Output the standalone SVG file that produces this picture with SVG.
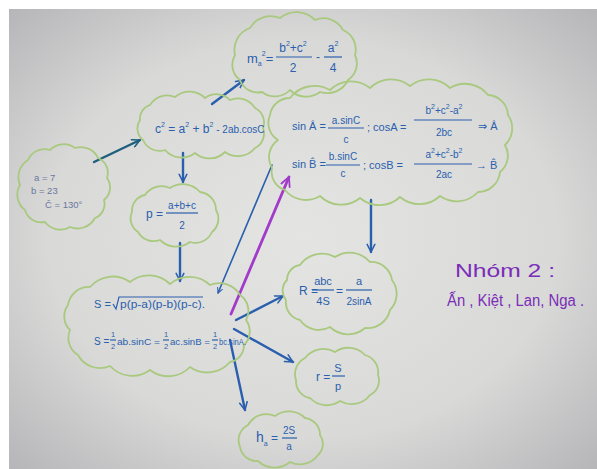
<svg xmlns="http://www.w3.org/2000/svg" width="597" height="469" viewBox="0 0 597 469">
<defs>
<radialGradient id="bg" cx="0.5" cy="0.5" r="0.72">
<stop offset="0" stop-color="#e4e4e2"/>
<stop offset="0.6" stop-color="#d9d9d8"/>
<stop offset="1" stop-color="#b4b4b7"/>
</radialGradient>
<marker id="ahb" viewBox="0 0 10 10" refX="9" refY="5" markerWidth="4" markerHeight="4" orient="auto" markerUnits="strokeWidth">
<path d="M1,1 L9,5 L1,9" fill="none" stroke="#2a5fae" stroke-width="1.6" stroke-linecap="round" stroke-linejoin="round"/>
</marker>
<marker id="aht" viewBox="0 0 10 10" refX="9" refY="5" markerWidth="4" markerHeight="4" orient="auto" markerUnits="strokeWidth">
<path d="M1,1 L9,5 L1,9" fill="none" stroke="#1f5f7e" stroke-width="1.6" stroke-linecap="round" stroke-linejoin="round"/>
</marker>
<marker id="ahp" viewBox="0 0 10 10" refX="9" refY="5" markerWidth="4" markerHeight="4" orient="auto" markerUnits="strokeWidth">
<path d="M1,1 L9,5 L1,9" fill="none" stroke="#a23bc9" stroke-width="1.6" stroke-linecap="round" stroke-linejoin="round"/>
</marker>
</defs>
<style>
.cloud{fill:none;stroke:#a9c97f;stroke-width:1.8;stroke-linejoin:round}
.t{font-family:"Liberation Sans","DejaVu Sans",sans-serif;fill:#2a5fae}
.g{font-family:"Liberation Sans","DejaVu Sans",sans-serif;fill:#6b78a0;font-size:9.5px}
.s{font-size:7px}
.fl{stroke:#2a5fae;stroke-width:1.2}
.c{text-anchor:middle}
.ar{fill:none;stroke:#2a5fae;stroke-width:2.4;stroke-linecap:round}
.pu{font-family:"Liberation Sans","DejaVu Sans",sans-serif;fill:#7a2db8}
</style>
<rect x="0" y="0" width="597" height="469" fill="#ffffff"/>
<rect x="9" y="9" width="588" height="460" fill="url(#bg)"/>

<g id="connectors">
<line x1="94" y1="162" x2="140" y2="140" stroke="#1f5f7e" stroke-width="2.4" stroke-linecap="round" marker-end="url(#aht)"/>
<line x1="212" y1="104" x2="244" y2="80" class="ar" marker-end="url(#ahb)"/>
<line x1="183" y1="153" x2="183" y2="182" class="ar" marker-end="url(#ahb)"/>
<line x1="180" y1="243" x2="180" y2="281" class="ar" marker-end="url(#ahb)"/>
<line x1="371" y1="200" x2="371" y2="252" class="ar" marker-end="url(#ahb)"/>
<line x1="272" y1="165" x2="218" y2="293" stroke="#2a5fae" stroke-width="1.6" stroke-linecap="round" marker-end="url(#ahb)"/>
<line x1="231" y1="314" x2="289" y2="177" stroke="#a23bc9" stroke-width="2.8" stroke-linecap="round" marker-end="url(#ahp)"/>
<line x1="236" y1="320" x2="283" y2="296" class="ar" marker-end="url(#ahb)"/>
<line x1="234" y1="329" x2="293" y2="362" class="ar" marker-end="url(#ahb)"/>
<line x1="230" y1="340" x2="245" y2="410" class="ar" marker-end="url(#ahb)"/>
</g>

<g id="n-given">
<path class="cloud" d="M28,160 A18,18 0 0 1 50,150 A19,19 0 0 1 75,148 A19,19 0 0 1 98,158 A16,16 0 0 1 107,178 A16,16 0 0 1 104,200 A15,15 0 0 1 95,218 A20,20 0 0 1 70,227 A19,19 0 0 1 45,222 A17,17 0 0 1 25,210 A19,19 0 0 1 20,185 A20,20 0 0 1 28,160 Z"/>
<text class="g" x="34" y="181">a = 7</text>
<text class="g" x="31" y="194">b = 23</text>
<text class="g" x="45" y="208">Ĉ = 130°</text>
</g>

<g id="n-c2">
<path class="cloud" d="M150,105 A20,20 0 0 1 175,97 A22,22 0 0 1 205,98 A19,19 0 0 1 230,100 A20,20 0 0 1 255,108 A16,16 0 0 1 263,128 A16,16 0 0 1 255,148 A22,22 0 0 1 225,152 A22,22 0 0 1 195,153 A22,22 0 0 1 165,150 A18,18 0 0 1 143,140 A15,15 0 0 1 140,120 A14,14 0 0 1 150,105 Z"/>
<text class="t" x="155" y="133" font-size="12">c<tspan dy="-6" font-size="7">2</tspan><tspan dy="6"> = a</tspan><tspan dy="-6" font-size="7">2</tspan><tspan dy="6"> + b</tspan><tspan dy="-6" font-size="7">2</tspan><tspan dy="6" font-size="10"> - 2ab.cosC</tspan></text>
</g>

<g id="n-median">
<path class="cloud" d="M250,28 A24,24 0 0 1 280,18 A26,26 0 0 1 315,20 A22,22 0 0 1 343,30 A21,21 0 0 1 355,55 A20,20 0 0 1 348,80 A23,23 0 0 1 320,92 A23,23 0 0 1 290,90 A21,21 0 0 1 262,92 A19,19 0 0 1 240,80 A19,19 0 0 1 235,55 A23,23 0 0 1 250,28 Z"/>
<text class="t" x="247" y="63" font-size="13">m<tspan dy="3" class="s">a</tspan><tspan dy="-10" class="s">2</tspan><tspan dy="7">=</tspan></text>
<text class="t c" x="293" y="52" font-size="12">b<tspan dy="-6" class="s">2</tspan><tspan dy="6">+c</tspan><tspan dy="-6" class="s">2</tspan></text>
<line class="fl" x1="276" y1="57" x2="312" y2="57"/>
<text class="t c" x="293" y="72" font-size="12">2</text>
<text class="t" x="316" y="61" font-size="12">-</text>
<text class="t c" x="333" y="52" font-size="12">a<tspan dy="-6" class="s">2</tspan></text>
<line class="fl" x1="324" y1="57" x2="342" y2="57"/>
<text class="t c" x="333" y="72" font-size="12">4</text>
</g>

<g id="n-angles">
<path class="cloud" d="M290,98 A31,31 0 0 1 330,90 A30,30 0 0 1 370,88 A30,30 0 0 1 410,86 A30,30 0 0 1 450,88 A29,29 0 0 1 488,95 A21,21 0 0 1 508,115 A23,23 0 0 1 505,145 A21,21 0 0 1 500,172 A22,22 0 0 1 478,192 A29,29 0 0 1 440,196 A30,30 0 0 1 400,197 A30,30 0 0 1 360,198 A30,30 0 0 1 320,196 A27,27 0 0 1 285,190 A19,19 0 0 1 272,168 A21,21 0 0 1 278,140 A20,20 0 0 1 270,115 A20,20 0 0 1 290,98 Z"/>
<text class="t" x="292" y="130" font-size="11">sin Â =</text>
<text class="t c" x="346" y="124" font-size="10">a.sinC</text>
<line class="fl" x1="328" y1="128" x2="364" y2="128"/>
<text class="t c" x="346" y="143" font-size="10">c</text>
<text class="t" x="367" y="131" font-size="11">; cosA =</text>
<text class="t c" x="444" y="114" font-size="10">b<tspan dy="-5" class="s">2</tspan><tspan dy="5">+c</tspan><tspan dy="-5" class="s">2</tspan><tspan dy="5">-a</tspan><tspan dy="-5" class="s">2</tspan></text>
<line class="fl" x1="414" y1="120" x2="472" y2="120"/>
<text class="t c" x="444" y="136" font-size="10">2bc</text>
<text class="t" x="478" y="130" font-size="11">⇒ Â</text>

<text class="t" x="292" y="168" font-size="11">sin B̂ =</text>
<text class="t c" x="343" y="160" font-size="10">b.sinC</text>
<line class="fl" x1="326" y1="165" x2="360" y2="165"/>
<text class="t c" x="343" y="177" font-size="10">c</text>
<text class="t" x="363" y="169" font-size="11">; cosB =</text>
<text class="t c" x="444" y="158" font-size="10">a<tspan dy="-5" class="s">2</tspan><tspan dy="5">+c</tspan><tspan dy="-5" class="s">2</tspan><tspan dy="5">-b</tspan><tspan dy="-5" class="s">2</tspan></text>
<line class="fl" x1="414" y1="164" x2="472" y2="164"/>
<text class="t c" x="444" y="178" font-size="10">2ac</text>
<text class="t" x="476" y="169" font-size="11">→ B̂</text>
</g>

<g id="n-p">
<path class="cloud" d="M145,195 A20,20 0 0 1 170,188 A23,23 0 0 1 200,192 A18,18 0 0 1 216,210 A17,17 0 0 1 212,232 A18,18 0 0 1 190,242 A23,23 0 0 1 160,240 A18,18 0 0 1 138,232 A16,16 0 0 1 132,212 A16,16 0 0 1 145,195 Z"/>
<text class="t" x="146" y="218" font-size="12">p =</text>
<text class="t c" x="182" y="209" font-size="10">a+b+c</text>
<line class="fl" x1="166" y1="213" x2="198" y2="213"/>
<text class="t c" x="182" y="229" font-size="10">2</text>
</g>

<g id="n-area">
<path class="cloud" d="M90,287 A30,30 0 0 1 130,282 A30,30 0 0 1 170,284 A30,30 0 0 1 210,285 A24,24 0 0 1 240,295 A19,19 0 0 1 246,320 A19,19 0 0 1 244,345 A17,17 0 0 1 230,362 A30,30 0 0 1 190,367 A30,30 0 0 1 150,370 A30,30 0 0 1 110,366 A25,25 0 0 1 78,355 A20,20 0 0 1 70,330 A19,19 0 0 1 68,305 A21,21 0 0 1 90,287 Z"/>
<text class="t" x="94" y="308" font-size="11">S =</text>
<path d="M113,304 L116,309 L119,297 L203,297" fill="none" stroke="#2a5fae" stroke-width="1.2"/>
<text class="t" x="120" y="308" font-size="11" textLength="85" lengthAdjust="spacingAndGlyphs">p(p-a)(p-b)(p-c).</text>
<text class="t" x="94" y="345" font-size="10">S =</text>
<text class="t c" x="113" y="337" font-size="7.5">1</text>
<line class="fl" x1="110" y1="340" x2="116" y2="340"/>
<text class="t c" x="113" y="349" font-size="7.5">2</text>
<text class="t" x="117" y="345" font-size="9.5" textLength="43" lengthAdjust="spacingAndGlyphs">ab.sinC =</text>
<text class="t c" x="166" y="337" font-size="7.5">1</text>
<line class="fl" x1="163" y1="340" x2="169" y2="340"/>
<text class="t c" x="166" y="349" font-size="7.5">2</text>
<text class="t" x="170" y="345" font-size="9.5" textLength="40" lengthAdjust="spacingAndGlyphs">ac.sinB =</text>
<text class="t c" x="215" y="337" font-size="7.5">1</text>
<line class="fl" x1="212" y1="340" x2="218" y2="340"/>
<text class="t c" x="215" y="349" font-size="7.5">2</text>
<text class="t" x="219" y="345" font-size="9.5" textLength="27" lengthAdjust="spacingAndGlyphs">bc.sinA.</text>
</g>

<g id="n-R">
<path class="cloud" d="M300,265 A27,27 0 0 1 335,257 A27,27 0 0 1 370,262 A21,21 0 0 1 392,280 A23,23 0 0 1 390,310 A23,23 0 0 1 365,328 A26,26 0 0 1 330,327 A23,23 0 0 1 300,320 A18,18 0 0 1 286,300 A15,15 0 0 1 287,280 A15,15 0 0 1 300,265 Z"/>
<text class="t" x="299" y="295" font-size="12">R =</text>
<text class="t c" x="323" y="285" font-size="11">abc</text>
<line class="fl" x1="312" y1="290" x2="334" y2="290"/>
<text class="t c" x="323" y="305" font-size="11">4S</text>
<text class="t" x="336" y="295" font-size="12">=</text>
<text class="t c" x="359" y="285" font-size="11">a</text>
<line class="fl" x1="346" y1="290" x2="372" y2="290"/>
<text class="t c" x="359" y="305" font-size="10">2sinA</text>
</g>

<g id="n-r">
<path class="cloud" d="M305,358 A23,23 0 0 1 335,352 A23,23 0 0 1 365,355 A18,18 0 0 1 378,375 A16,16 0 0 1 370,395 A23,23 0 0 1 340,401 A23,23 0 0 1 310,398 A17,17 0 0 1 296,380 A18,18 0 0 1 305,358 Z"/>
<text class="t" x="316" y="381" font-size="12">r =</text>
<text class="t c" x="338" y="372" font-size="11">S</text>
<line class="fl" x1="332" y1="376" x2="345" y2="376"/>
<text class="t c" x="338" y="390" font-size="11">p</text>
</g>

<g id="n-height">
<path class="cloud" d="M248,425 A21,21 0 0 1 275,416 A23,23 0 0 1 305,418 A17,17 0 0 1 320,435 A15,15 0 0 1 318,455 A22,22 0 0 1 290,462 A24,24 0 0 1 258,461 A17,17 0 0 1 240,447 A17,17 0 0 1 248,425 Z"/>
<text class="t" x="256" y="442" font-size="14">h<tspan dy="4" class="s">a</tspan><tspan dy="-4" font-size="12"> =</tspan></text>
<text class="t c" x="289" y="434" font-size="10">2S</text>
<line class="fl" x1="282" y1="438" x2="297" y2="438"/>
<text class="t c" x="289" y="450" font-size="10">a</text>
</g>

<g id="n-group">
<text class="pu" x="455" y="277" font-size="19" textLength="100" lengthAdjust="spacingAndGlyphs">Nhóm 2 :</text>
<text class="pu" x="447" y="306" font-size="16" textLength="137" lengthAdjust="spacingAndGlyphs">Ấn , Kiệt , Lan, Nga .</text>
</g>
</svg>
